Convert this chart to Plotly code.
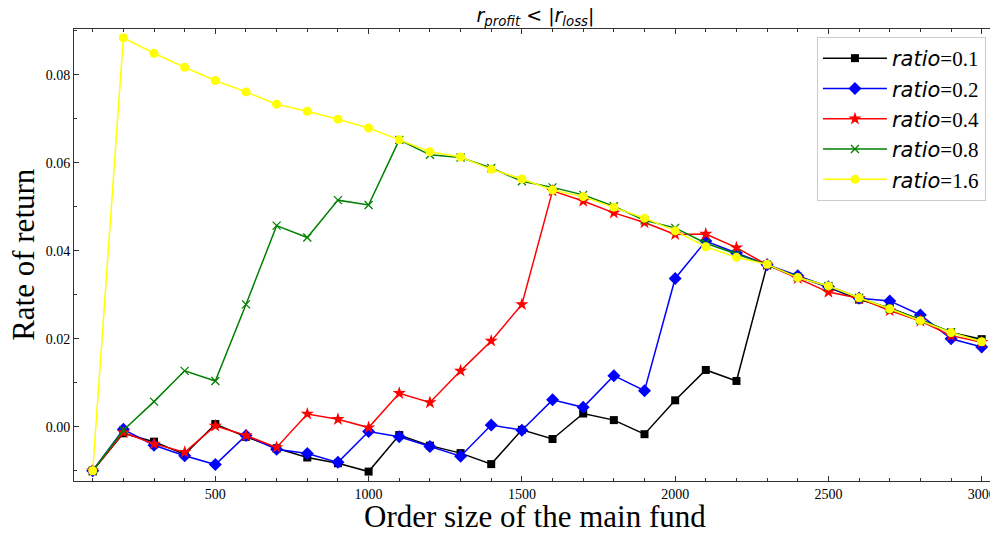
import plotly.graph_objects as go

order_size = [100, 200, 300, 400, 500, 600, 700, 800, 900, 1000,
              1100, 1200, 1300, 1400, 1500, 1600, 1700, 1800, 1900, 2000,
              2100, 2200, 2300, 2400, 2500, 2600, 2700, 2800, 2900, 3000]

ratio_01 = [-0.0100, -0.0015, -0.0034, -0.0063, 0.0006, -0.0023, -0.0049, -0.0070, -0.0083, -0.0102,
            -0.0019, -0.0043, -0.0060, -0.0085, -0.0007, -0.0028, 0.0030, 0.0015, -0.0017, 0.0060,
            0.0129, 0.0104, 0.0368, 0.0341, 0.0317, 0.0289, 0.0270, 0.0243, 0.0214, 0.0199]
ratio_02 = [-0.0100, -0.0006, -0.0042, -0.0066, -0.0086, -0.0020, -0.0051, -0.0061, -0.0081, -0.0011,
            -0.0023, -0.0045, -0.0067, 0.0004, -0.0008, 0.0061, 0.0044, 0.0116, 0.0082, 0.0337,
            0.0422, 0.0395, 0.0368, 0.0343, 0.0318, 0.0292, 0.0286, 0.0254, 0.0200, 0.0181]
ratio_04 = [-0.0100, -0.0013, -0.0039, -0.0058, 0.0002, -0.0020, -0.0047, 0.0029, 0.0017, -0.0002,
            0.0076, 0.0055, 0.0127, 0.0195, 0.0278, 0.0536, 0.0513, 0.0486, 0.0464, 0.0437,
            0.0438, 0.0407, 0.0368, 0.0337, 0.0306, 0.0292, 0.0264, 0.0240, 0.0207, 0.0192]
ratio_08 = [-0.0100, -0.0008, 0.0057, 0.0127, 0.0104, 0.0278, 0.0457, 0.0430, 0.0515, 0.0504,
            0.0652, 0.0618, 0.0612, 0.0588, 0.0558, 0.0544, 0.0527, 0.0501, 0.0469, 0.0452,
            0.0417, 0.0393, 0.0368, 0.0340, 0.0320, 0.0293, 0.0268, 0.0243, 0.0215, 0.0194]
ratio_16 = [-0.0100, 0.0884, 0.0849, 0.0817, 0.0787, 0.0761, 0.0733, 0.0717, 0.0699, 0.0679,
            0.0652, 0.0625, 0.0613, 0.0585, 0.0563, 0.0538, 0.0523, 0.0499, 0.0474, 0.0445,
            0.0409, 0.0385, 0.0369, 0.0339, 0.0320, 0.0293, 0.0268, 0.0241, 0.0214, 0.0193]

series_labels = ["0.1", "0.2", "0.4", "0.8", "1.6"]
series_values = [ratio_01, ratio_02, ratio_04, ratio_08, ratio_16]
colors = ["#000000", "#0000ff", "#ff0000", "#008000", "#ffff00"]
symbols = ["square", "diamond", "star", "x-thin", "circle"]
sizes = [8, 10, 10, 8, 9]

x_ticks = [500, 1000, 1500, 2000, 2500, 3000]
y_ticks = [0.00, 0.02, 0.04, 0.06, 0.08]

x_title = "Order size of the main fund"
y_title = "Rate of return"

SERIF = "Liberation Serif"
SANS = "DejaVu Sans"

fig = go.Figure()
for lab, vals, c, sym, sz in zip(series_labels, series_values, colors, symbols, sizes):
    marker = dict(symbol=sym, size=sz, color=c)
    if sym == "x-thin":
        marker["line"] = dict(color=c, width=1.3)
    else:
        marker["line"] = dict(width=0)
    fig.add_trace(go.Scatter(
        x=order_size, y=vals, mode="lines+markers",
        name='<span style="font-family:DejaVu Sans"><i>ratio</i></span><span style="font-family:Liberation Serif">=' + lab + '</span>',
        legendgroup=lab,
        line=dict(color=c, width=1.5),
        marker=marker,
    ))

axis_common = dict(
    showline=True, linecolor="#333333", linewidth=1, mirror="allticks",
    ticks="inside", ticklen=5, tickcolor="#333333", tickwidth=1,
    showgrid=False, zeroline=False,
    tickfont=dict(family=SERIF, size=14, color="black"),
)

fig.update_layout(
    width=990, height=519,
    margin=dict(l=66, r=2, t=21, b=46),
    paper_bgcolor="white", plot_bgcolor="white",
    title=dict(
        text="<i>r</i><sub><i>profit</i></sub> &lt; |<i>r</i><sub><i>loss</i></sub>|",
        font=dict(family=SANS, size=19, color="black"),
        xref="container", x=0.5328, xanchor="center",
        yref="container", y=0.986, yanchor="middle",
    ),
    legend=dict(
        x=0.9891, xanchor="right", y=0.9823, yanchor="top",
        bgcolor="white", bordercolor="#cccccc", borderwidth=1,
        font=dict(family=SERIF, size=21, color="black"),
        tracegroupgap=0, itemwidth=64,
    ),
    xaxis=dict(
        range=[39, 3046.6], tickvals=x_ticks, ticktext=[str(v) for v in x_ticks],
        minor=dict(dtick=100, tick0=0, ticks="inside", ticklen=3, tickcolor="#333333", showgrid=False),
        **axis_common,
    ),
    yaxis=dict(
        range=[-0.01234, 0.0904], tickvals=y_ticks, tickformat=".2f",
        minor=dict(dtick=0.01, tick0=0, ticks="inside", ticklen=3, tickcolor="#333333", showgrid=False),
        **axis_common,
    ),
    annotations=[
        dict(text=x_title, xref="paper", yref="paper", x=0.5, y=-0.0785,
             xanchor="center", yanchor="middle", showarrow=False,
             font=dict(family=SERIF, size=31, color="black")),
        dict(text=y_title, xref="paper", yref="paper", x=-0.0556, y=0.502,
             xanchor="center", yanchor="middle", showarrow=False, textangle=-90,
             font=dict(family=SERIF, size=31, color="black")),
    ],
)

fig.write_html("out.html")
